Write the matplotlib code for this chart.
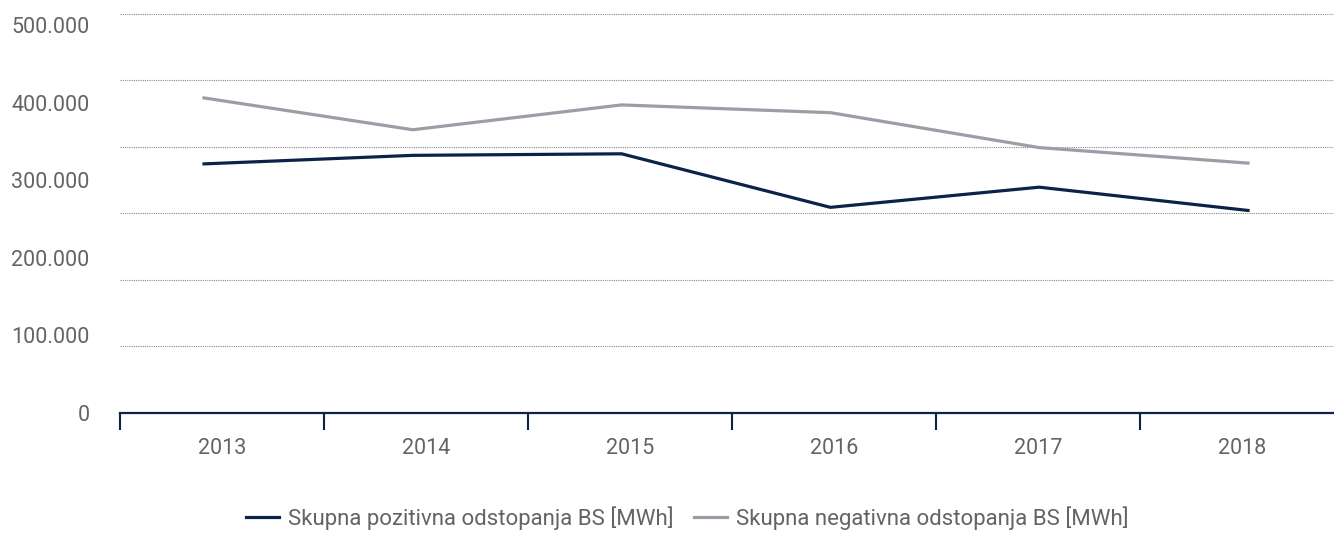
import matplotlib
matplotlib.use("Agg")
import matplotlib.pyplot as plt
from matplotlib.ticker import FixedLocator, FuncFormatter

years = ["2013", "2014", "2015", "2016", "2017", "2018"]
pozitivna = [321000, 332000, 334000, 265000, 291000, 261000]
negativna = [406000, 365000, 397000, 387000, 342000, 322000]
y_ticks = [0, 100000, 200000, 300000, 400000, 500000]

navy = "#0b2348"
grey = "#9b9ea6"
text_col = "#646464"

plt.rcParams["font.family"] = ["Roboto", "DejaVu Sans"]

fig = plt.figure(figsize=(13.34, 5.36), dpi=100)
ax = fig.add_axes([120 / 1334, 123 / 536, 1214 / 1334, 403 / 536])

# category axis: year labels centred between the boundary ticks
ax.set_xlim(-0.5, -0.5 + 1214 / 204)
ax.set_ylim(0, 519300)
ax.xaxis.set_major_locator(FixedLocator([i - 0.5 for i in range(len(years))]))
ax.xaxis.set_minor_locator(FixedLocator(range(len(years))))
ax.xaxis.set_major_formatter(FuncFormatter(lambda v, p: ""))
ax.xaxis.set_minor_formatter(FuncFormatter(lambda v, p: years[int(round(v))]))
ax.tick_params(axis="x", which="major", direction="out", length=12, width=1.5, color=navy)
ax.tick_params(axis="x", which="minor", length=0, pad=18, labelsize=15.5, labelcolor=text_col)

ax.yaxis.set_major_locator(FixedLocator(y_ticks))
ax.yaxis.set_major_formatter(FuncFormatter(lambda v, p: f"{int(v):,}".replace(",", ".")))
ax.yaxis.set_minor_locator(FixedLocator([k * 600000 / 7 for k in range(1, 7)]))
ax.tick_params(axis="y", which="both", length=0, pad=22, labelsize=15.5, labelcolor=text_col)
ax.grid(axis="y", which="minor", color="#8a8a8a", linestyle=(0, (1, 1)), linewidth=0.8)

for side in ["left", "right", "top"]:
    ax.spines[side].set_visible(False)
ax.spines["bottom"].set_color(navy)
ax.spines["bottom"].set_linewidth(1.6)
ax.spines["bottom"].set_zorder(5)

# series are drawn on their own x scale
ax2 = ax.twiny()
ax2.set_xlim(-84 * 5 / 1044, 5 + 86 * 5 / 1044)
ax2.axis("off")
ax2.plot(range(len(years)), pozitivna, color=navy, linewidth=2.3,
         label="Skupna pozitivna odstopanja BS [MWh]")
ax2.plot(range(len(years)), negativna, color=grey, linewidth=2.3,
         label="Skupna negativna odstopanja BS [MWh]")

handles, labels = ax2.get_legend_handles_labels()
leg = fig.legend(handles, labels, loc="center", bbox_to_anchor=(0.515, 18 / 536), ncol=2,
                 frameon=False, fontsize=16, handlelength=1.5, handletextpad=0.4,
                 columnspacing=0.9)
for t in leg.get_texts():
    t.set_color(text_col)

fig.savefig("out.png", dpi=100)
